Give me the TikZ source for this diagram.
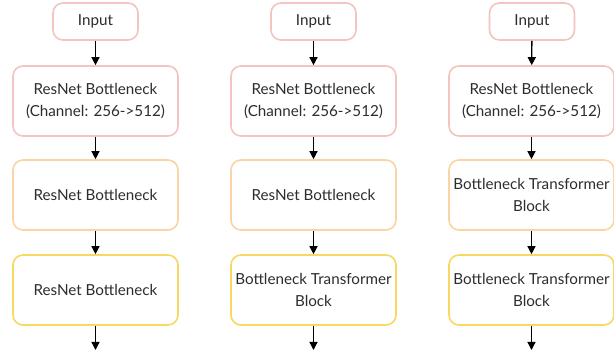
\documentclass[tikz,border=0pt]{standalone}
\usepackage{fontspec}
\setmainfont{Lato}
\usetikzlibrary{arrows.meta}
\definecolor{cpink}{RGB}{244,196,192}
\definecolor{corange}{RGB}{250,212,164}
\definecolor{cyellow}{RGB}{247,216,96}
\definecolor{ctext}{RGB}{45,45,45}
\tikzset{
  blk/.style={draw, rounded corners=10pt, line width=1.6pt, fill=white,
    minimum width=165pt, minimum height=70pt, align=center, text=ctext,
    font=\fontsize{15.2}{22.5}\selectfont, inner sep=0pt},
  inbox/.style={draw=cpink, rounded corners=10pt, line width=1.6pt, fill=white,
    minimum width=85pt, minimum height=37pt, align=center, text=ctext,
    font=\fontsize{15.2}{22.5}\selectfont, inner sep=0pt},
  arr/.style={-{Triangle[length=8pt,width=8pt]}, line width=1.3pt, black}
}
\begin{document}
\begin{tikzpicture}[x=1pt,y=-1pt]
\useasboundingbox (0,0) rectangle (614,352);
% column 1
\node[inbox] (i1) at (95.5,21.5) {Input};
\node[blk,draw=cpink] (a1) at (95.5,101) {ResNet Bottleneck\\(Channel: 256->512)};
\node[blk,draw=corange] (b1) at (95.5,195) {ResNet Bottleneck};
\node[blk,draw=cyellow] (c1) at (95.5,290) {ResNet Bottleneck};
\coordinate (e1) at (95.5,350);
% column 2
\node[inbox] (i2) at (313.5,21.5) {Input};
\node[blk,draw=cpink] (a2) at (313.5,101) {ResNet Bottleneck\\(Channel: 256->512)};
\node[blk,draw=corange] (b2) at (313.5,195) {ResNet Bottleneck};
\node[blk,draw=cyellow] (c2) at (313.5,290) {Bottleneck Transformer\\Block};
\coordinate (e2) at (313.5,350);
% column 3
\node[inbox] (i3) at (532,21.5) {Input};
\node[blk,draw=cpink] (a3) at (531.5,101) {ResNet Bottleneck\\(Channel: 256->512)};
\node[blk,draw=corange] (b3) at (531.5,195) {Bottleneck Transformer\\Block};
\node[blk,draw=cyellow] (c3) at (531.5,290) {Bottleneck Transformer\\Block};
\coordinate (e3) at (531.5,350);
\foreach \k in {1,2,3}{
  \draw[arr] (i\k) -- (a\k);
  \draw[arr] (a\k) -- (b\k);
  \draw[arr] (b\k) -- (c\k);
  \draw[arr] (c\k) -- (e\k);
}
\end{tikzpicture}
\end{document}
